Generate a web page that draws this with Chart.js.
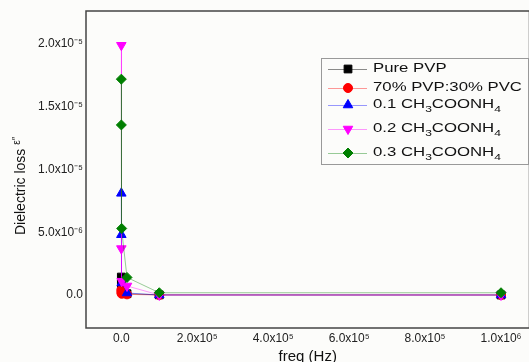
<!DOCTYPE html>
<html>
<head>
<meta charset="UTF-8">
<title>Dielectric loss</title>
<script src="https://cdn.jsdelivr.net/npm/chart.js@4.4.1/dist/chart.umd.min.js"></script>
<style>
    html, body { margin: 0; padding: 0; background: #fcfcfa; overflow: hidden; }
    #wrap { width: 536px; height: 362px; }
</style>
</head>
<body>
<div id="wrap"><canvas id="chart" width="536" height="362"></canvas></div>
<script>
// frequencies (Hz)
const freq = [50, 100, 1000, 15000, 100000, 1000000];

// dielectric loss values per sample
const purePVP   = [1.43e-6, 9.0e-7, 3.0e-7, 1.0e-7, 1.0e-8, 0];
const blend7030 = [4.0e-7, 2.0e-7, 1.0e-7, 5.0e-8, 0, 0];
const amm01     = [8.1e-6, 4.8e-6, 9.6e-7, 1.6e-7, 0, 0];
const amm02     = [1.99e-5, 3.7e-6, 1.1e-6, 7.2e-7, 0, 0];
const amm03     = [1.72e-5, 1.355e-5, 5.3e-6, 1.4e-6, 1.8e-7, 1.8e-7];

const seriesNames = ["Pure PVP", "70% PVP:30% PVC", "0.1 CH3COONH4", "0.2 CH3COONH4", "0.3 CH3COONH4"];
const seriesData = [purePVP, blend7030, amm01, amm02, amm03];

const xTicks = [0, 2e5, 4e5, 6e5, 8e5, 1e6];
const yTicks = [0, 5e-6, 1e-5, 1.5e-5, 2e-5];

const markerColors = ["#000000", "#ff0000", "#0000ff", "#ff00ff", "#007f00"];
const lineColors = ["rgba(0,0,0,0.45)", "rgba(255,0,0,0.4)", "rgba(0,0,255,0.4)", "rgba(255,0,255,0.4)", "rgba(0,128,0,0.4)"];
const shapes = ["rect", "circle", "triangle", "triangle", "rectRot"];
const rotations = [0, 0, 0, 180, 0];
const radii = [5.5, 4.5, 5.5, 5.5, 5];

const SUP = {"-": "\u207B", "0": "\u2070", "1": "\u00B9", "2": "\u00B2", "3": "\u00B3", "4": "\u2074", "5": "\u2075", "6": "\u2076", "7": "\u2077", "8": "\u2078", "9": "\u2079"};
function sci(v){
    if (v === 0) return "0.0";
    const e = Math.floor(Math.log10(v) + 1e-9);
    const m = v / Math.pow(10, e);
    return m.toFixed(1) + "x10" + String(e).split("").map(c => SUP[c]).join("");
}

const FONT = "'Liberation Sans', Arial, sans-serif";

function drawMarker(ctx, i, x, y){
    const opts = {pointStyle: shapes[i], radius: radii[i], rotation: rotations[i], borderWidth: 1};
    ctx.save();
    ctx.fillStyle = markerColors[i];
    ctx.strokeStyle = markerColors[i];
    ctx.lineWidth = 1;
    Chart.helpers.drawPoint(ctx, opts, x, y);
    ctx.restore();
}

// legend box + y title, drawn by hand because of the subscripts
const extras = {
    id: "extras",
    afterDraw(chart){
        const ctx = chart.ctx;
        const a = chart.chartArea;

        // frame
        ctx.save();
        ctx.strokeStyle = "#444";
        ctx.lineWidth = 1.5;
        ctx.strokeRect(a.left, a.top, a.right - a.left, a.bottom - a.top);
        ctx.restore();

        // y title
        ctx.save();
        ctx.translate(20, 235);
        ctx.rotate(-Math.PI / 2);
        ctx.fillStyle = "#111";
        ctx.textBaseline = "middle";
        ctx.font = "14px " + FONT;
        const t = "Dielectric loss ";
        ctx.fillText(t, 0, 1);
        const w = ctx.measureText(t).width;
        ctx.font = "10px " + FONT;
        ctx.fillText("\u03B5\u2033", w, -3);
        ctx.restore();

        // legend
        const bx = 321, by = 58, bw = 207, bh = 106;
        ctx.save();
        ctx.fillStyle = "#fcfcfa";
        ctx.fillRect(bx, by, bw, bh);
        ctx.strokeStyle = "#999";
        ctx.lineWidth = 1;
        ctx.strokeRect(bx + 0.5, by + 0.5, bw, bh);
        const rowY = [69, 88, 105, 129, 153];
        const sx = 1.34;
        seriesNames.forEach((name, i) => {
            const y = rowY[i];
            ctx.strokeStyle = lineColors[i];
            ctx.lineWidth = 1;
            ctx.beginPath();
            ctx.moveTo(328, y + 0.5);
            ctx.lineTo(367, y + 0.5);
            ctx.stroke();
            drawMarker(ctx, i, 348, y);

            ctx.save();
            ctx.translate(373, y);
            ctx.scale(sx, 1);
            ctx.fillStyle = "#111";
            ctx.textBaseline = "middle";
            let x = 0;
            const parts = name.split(/(?<=[A-Z])(\d)/);
            parts.forEach((p, k) => {
                if (!p) return;
                const sub = k % 2 === 1;
                ctx.font = (sub ? "9px " : "12.5px ") + FONT;
                ctx.fillText(p, x, sub ? 5 : 0);
                x += ctx.measureText(p).width;
            });
            ctx.restore();
        });
        ctx.restore();
    }
};

const datasets = seriesData.map((vals, i) => ({
    label: seriesNames[i],
    data: freq.map((f, k) => ({x: f, y: vals[k]})),
    borderColor: lineColors[i],
    borderWidth: 1,
    backgroundColor: markerColors[i],
    pointBackgroundColor: markerColors[i],
    pointBorderColor: markerColors[i],
    pointBorderWidth: 1,
    pointStyle: shapes[i],
    pointRotation: rotations[i],
    pointRadius: radii[i],
    order: seriesData.length - 1 - i,
    tension: 0
}));

new Chart(document.getElementById("chart"), {
    type: "line",
    data: {datasets},
    options: {
        responsive: false,
        animation: false,
        events: [],
        layout: {padding: {top: 11, right: 3, left: 0, bottom: 0}},
        plugins: {legend: {display: false}, tooltip: {enabled: false}},
        scales: {
            x: {
                type: "linear",
                min: -93000,
                max: 1075000,
                grid: {display: false, drawTicks: false},
                border: {display: false},
                afterBuildTicks: s => { s.ticks = xTicks.map(v => ({value: v})); },
                afterFit: s => { s.height = 34; },
                ticks: {
                    padding: 3,
                    maxRotation: 0,
                    autoSkip: false,
                    color: "#222",
                    font: {family: FONT, size: 12},
                    callback: v => sci(v)
                },
                title: {
                    display: true,
                    text: "freq (Hz)",
                    color: "#111",
                    font: {family: FONT, size: 15, lineHeight: 1},
                    padding: {top: 0, bottom: -2}
                }
            },
            y: {
                type: "linear",
                min: -2.63e-6,
                max: 2.263e-5,
                grid: {display: false, drawTicks: false},
                border: {display: false},
                afterBuildTicks: s => { s.ticks = yTicks.map(v => ({value: v})); },
                afterFit: s => { s.width = 86; },
                ticks: {
                    padding: 3,
                    autoSkip: false,
                    color: "#222",
                    font: {family: FONT, size: 12},
                    callback: v => sci(v)
                }
            }
        }
    },
    plugins: [extras]
});
</script>
</body>
</html>
